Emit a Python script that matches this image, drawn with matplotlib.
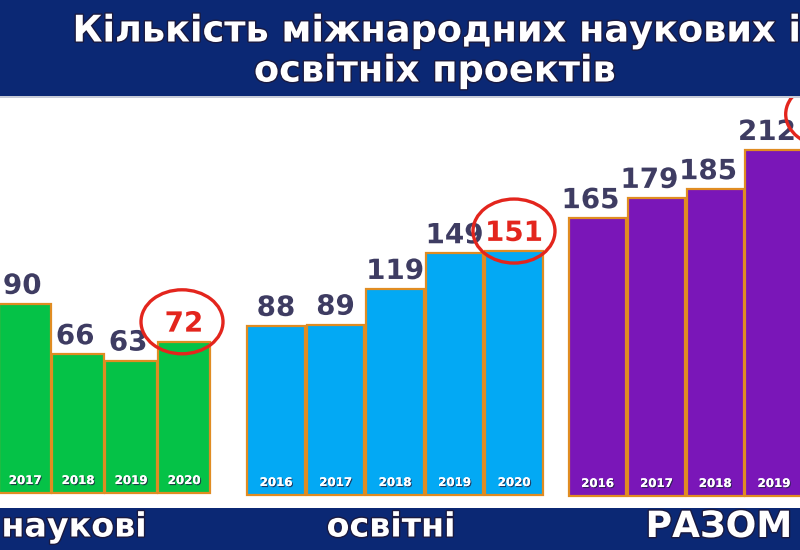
import matplotlib.pyplot as plt
import matplotlib.patheffects as pe
from matplotlib.patches import Rectangle, Ellipse
from matplotlib.transforms import ScaledTranslation

# data
years = ["2016", "2017", "2018", "2019", "2020"]
naukovi = [77, 90, 66, 63, 72]
osvitni = [88, 89, 119, 149, 151]
razom = [165, 179, 185, 212, 223]

navy = "#0b2874"
red = "#e3251d"
label_col = "#3e3c62"
edge_col = "#e08c22"

fig = plt.figure(figsize=(8, 5.5), dpi=100)
fig.patch.set_facecolor("white")

W, H = 800.0, 550.0


def add_group(left_px, right_px, bottom_px, top_px, xlim, ylim, vals, color, hl,
              dx=0, ell_dx=0):
    ax = fig.add_axes([left_px / W, 1 - bottom_px / H,
                       (right_px - left_px) / W, (bottom_px - top_px) / H])
    ax.set_xlim(*xlim)
    ax.set_ylim(*ylim)
    ax.axis("off")
    base = ylim[0]
    xs = list(range(len(vals)))
    ax.bar(xs, [v - base for v in vals], bottom=base, width=0.97,
           color=color, edgecolor=edge_col, linewidth=1.6, clip_on=False)
    for i, v in enumerate(vals):
        c = red if i == hl else label_col
        off = 0 if i == hl else dx
        ax.annotate(str(v), (i, v), xytext=(off, 3), textcoords="offset points",
                    ha="center", va="bottom", fontsize=20, fontweight="bold",
                    color=c, annotation_clip=False,
                    path_effects=[pe.withStroke(linewidth=2.5, foreground="white")])
        ax.annotate(years[i], (i, base), xytext=(0, 9), textcoords="offset points",
                    ha="center", va="center", fontsize=8.5, fontweight="bold",
                    color="white", annotation_clip=False,
                    path_effects=[pe.withSimplePatchShadow(offset=(0.8, -0.8),
                                                           shadow_rgbFace="#222244",
                                                           alpha=0.8),
                                  pe.Normal()])
        if i == hl:
            tr = fig.dpi_scale_trans + ScaledTranslation(i, v, ax.transData)
            ax.add_patch(Ellipse((ell_dx / 100, 0.2), 0.82, 0.64, transform=tr,
                                 fill=False, ec=red, lw=2.4, clip_on=False, zorder=5))
    return ax


# наукові
add_group(0, 230, 493, 97, ((0 + 28) / 53, (230 + 28) / 53), (0, 396 / 2.1),
          naukovi, "#05c247", 4, dx=-2, ell_dx=-2)
# освітні
add_group(230, 560, 495, 97, ((230 - 276) / 59.5, (560 - 276) / 59.5),
          (-54, -54 + 398 / 1.19), osvitni, "#03a9f4", 4)
# разом
add_group(560, 800, 496, 97, ((560 - 597.5) / 58.8, (800 - 597.5) / 58.8),
          (-26.5, -26.5 + 399 / 1.45), razom, "#7a16b8", 4, dx=-5, ell_dx=-6)

# title band
fig.add_artist(Rectangle((0, 1 - 96 / H), 1, 96 / H, transform=fig.transFigure,
                         facecolor=navy, edgecolor="none", zorder=10))
fig.add_artist(Rectangle((0, 1 - 98 / H), 1, 2 / H, transform=fig.transFigure,
                         facecolor="#c8ccd8", edgecolor="none", zorder=10))
title_fx = [pe.withStroke(linewidth=2, foreground="#1a1a40")]
fig.text(437 / W, 1 - 31 / H, "Кількість міжнародних наукових і", ha="center",
         va="center", fontsize=26.4, fontweight="bold", color="white", zorder=11,
         path_effects=title_fx)
fig.text(435 / W, 1 - 71 / H, "освітніх проектів", ha="center", va="center",
         fontsize=26.4, fontweight="bold", color="white", zorder=11,
         path_effects=title_fx)

# bottom band
fig.add_artist(Rectangle((0, 0), 1, 42 / H, transform=fig.transFigure,
                         facecolor=navy, edgecolor="none", zorder=10))
for x, s, fs in [(74, "наукові", 24), (391, "освітні", 24), (719, "РАЗОМ", 26)]:
    fig.text(x / W, 1 - 527 / H, s, ha="center", va="center", fontsize=fs,
             fontweight="bold", color="white", zorder=11, path_effects=title_fx)

fig.savefig("out.png", dpi=100)
